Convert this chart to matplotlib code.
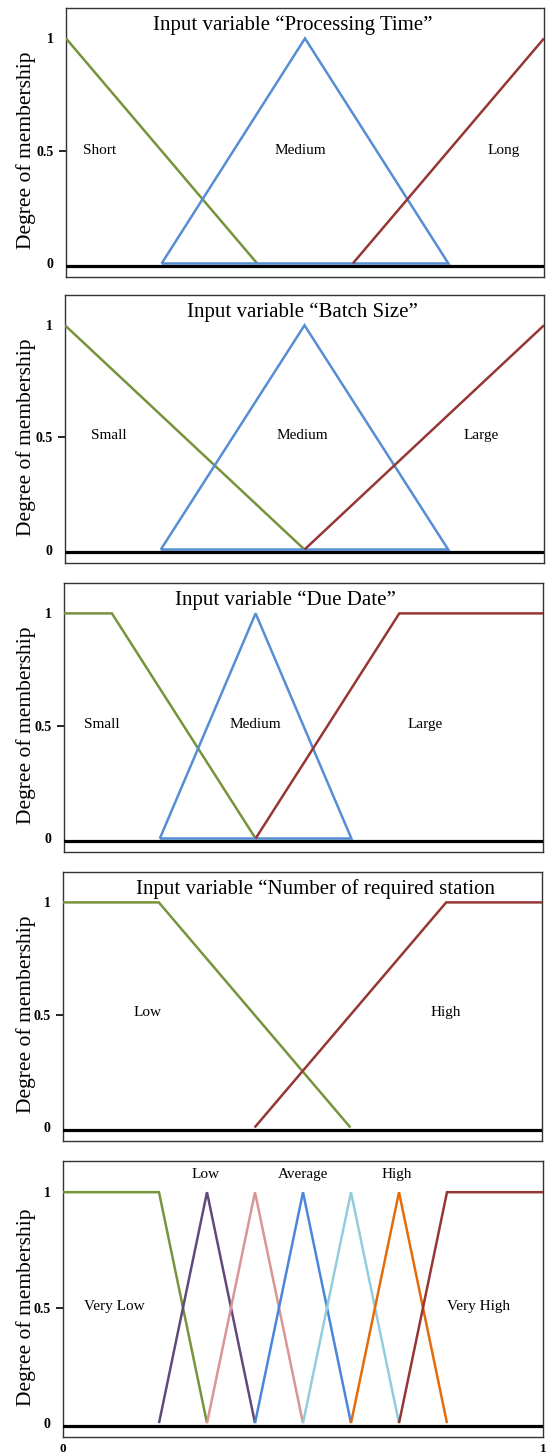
import matplotlib
matplotlib.use("Agg")
import matplotlib.pyplot as plt

plt.rcParams['font.family'] = ['Liberation Serif', 'DejaVu Serif']

W, H = 547, 1454
DPI = 100

# ---------------- data ----------------
titles = [
    "Input variable \u201cProcessing Time\u201d",
    "Input variable \u201cBatch Size\u201d",
    "Input variable \u201cDue Date\u201d",
    "Input variable \u201cNumber of required station",
    None,
]

# membership functions: (name, x breakpoints, y breakpoints, colour key)
mf_processing = [
    ("Short",  [0.0, 0.4],            [1, 0],          "green"),
    ("Medium", [0.2, 0.5, 0.8, 0.2],  [0, 1, 0, 0],    "blue"),
    ("Long",   [0.6, 1.0],            [0, 1],          "red"),
]
mf_batch = [
    ("Small",  [0.0, 0.5],            [1, 0],          "green"),
    ("Medium", [0.2, 0.5, 0.8, 0.2],  [0, 1, 0, 0],    "blue"),
    ("Large",  [0.5, 1.0],            [0, 1],          "red"),
]
mf_due = [
    ("Small",  [0.0, 0.1, 0.4],       [1, 1, 0],       "green"),
    ("Medium", [0.2, 0.4, 0.6, 0.2],  [0, 1, 0, 0],    "blue"),
    ("Large",  [0.4, 0.7, 1.0],       [0, 1, 1],       "red"),
]
mf_station = [
    ("Low",    [0.0, 0.2, 0.6],       [1, 1, 0],       "green"),
    ("High",   [0.4, 0.8, 1.0],       [0, 1, 1],       "red"),
]
mf_output = [
    ("Very Low",  [0.0, 0.2, 0.3],    [1, 1, 0],    "green"),
    ("Low",       [0.2, 0.3, 0.4],    [0, 1, 0],    "purple"),
    ("",          [0.3, 0.4, 0.5],    [0, 1, 0],    "pink"),
    ("Average",   [0.4, 0.5, 0.6],    [0, 1, 0],    "blue2"),
    ("",          [0.5, 0.6, 0.7],    [0, 1, 0],    "lightblue"),
    ("High",      [0.6, 0.7, 0.8],    [0, 1, 0],    "orange"),
    ("Very High", [0.7, 0.8, 1.0],    [0, 1, 1],    "red"),
]
panels_mf = [mf_processing, mf_batch, mf_due, mf_station, mf_output]

# label placement (x, y) in data coordinates
labels_processing = [("Short", 0.071, 0.5), ("Medium", 0.49, 0.5), ("Long", 0.915, 0.5)]
labels_batch = [("Small", 0.092, 0.51), ("Medium", 0.496, 0.51), ("Large", 0.868, 0.51)]
labels_due = [("Small", 0.079, 0.505), ("Medium", 0.40, 0.505), ("Large", 0.754, 0.505)]
labels_station = [("Low", 0.176, 0.51), ("High", 0.80, 0.51)]
labels_output = [("Very Low", 0.107, 0.505), ("Very High", 0.865, 0.505),
                 ("Low", 0.297, 1.075), ("Average", 0.50, 1.075), ("High", 0.695, 1.075)]
panels_labels = [labels_processing, labels_batch, labels_due, labels_station, labels_output]

title_x = [0.474, 0.496, 0.462, 0.528]
title_y = 1.06

yticks = [0, 0.5, 1]
yticklabels = ["0", "0.5", "1"]
xticks = [0, 1]
xticklabels = ["0", "1"]

colors = {
    "green": "#77933C",
    "blue": "#558ED5",
    "blue2": "#4A86DB",
    "red": "#953735",
    "purple": "#604A7B",
    "pink": "#D99694",
    "lightblue": "#93CDDD",
    "orange": "#E46C0A",
}

# axes boxes in pixels: left, right, top, bottom
boxes = [
    (66, 544, 8, 277),
    (65, 544, 295, 563),
    (64, 543, 583, 852),
    (63, 542, 872, 1141),
    (63, 543, 1161, 1437),
]

fig = plt.figure(figsize=(W / DPI, H / DPI), dpi=DPI)

for i, (l, r, t, b) in enumerate(boxes):
    ax = fig.add_axes([l / W, 1 - b / H, (r - l) / W, (b - t) / H])
    ax.set_xlim(0, 1)
    ax.set_ylim(-0.06, 1.135)

    for name, xs, ys, ck in panels_mf[i]:
        ax.plot(xs, ys, color=colors[ck], lw=1.8, solid_joinstyle='miter',
                solid_capstyle='butt', zorder=3)

    ax.axhline(-0.012, color='black', lw=2.3, zorder=4)

    for txt, x, y in panels_labels[i]:
        ax.text(x, y, txt, ha='center', va='center', fontsize=11, zorder=5)

    if titles[i] is not None:
        ax.text(title_x[i], title_y, titles[i], ha='center', va='center',
                fontsize=15, zorder=5)

    for sp in ax.spines.values():
        sp.set_color('#333333')
        sp.set_linewidth(1.0)

    ax.set_yticks(yticks)
    ax.set_yticklabels(yticklabels, fontweight='bold', fontsize=10)
    ax.tick_params(axis='y', direction='out', length=5, width=1.2, pad=4)
    ticks = ax.yaxis.get_major_ticks()
    ticks[0].tick1line.set_visible(False)
    ticks[2].tick1line.set_visible(False)

    ax.set_ylabel("Degree of membership", fontsize=15.5)
    ax.yaxis.set_label_coords((36 - l) / (r - l), 0.47)

    if i == len(boxes) - 1:
        ax.set_xticks(xticks)
        ax.set_xticklabels(xticklabels, fontweight='bold', fontsize=9.5)
        ax.tick_params(axis='x', length=0, pad=4)
    else:
        ax.set_xticks([])

fig.savefig("out.png", dpi=DPI)
